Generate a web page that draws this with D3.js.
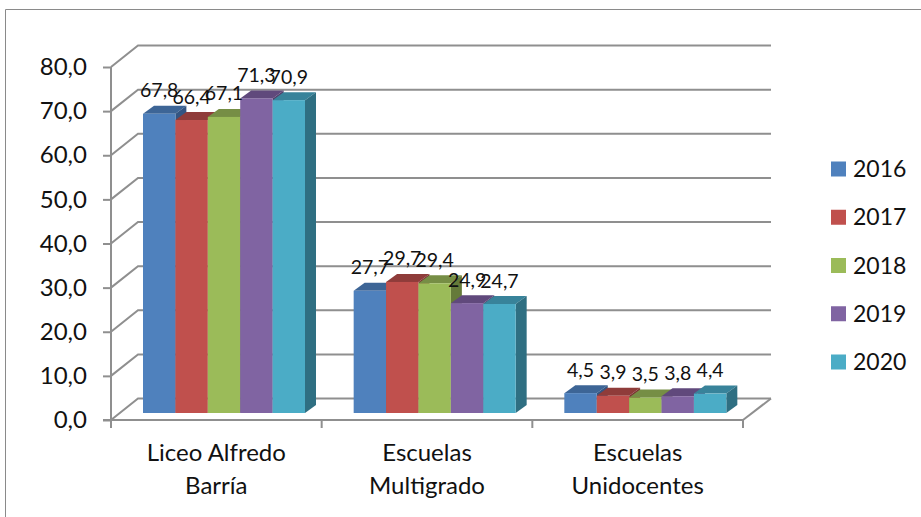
<!DOCTYPE html>
<html>
<head>
<meta charset="utf-8">
<script src="https://cdn.jsdelivr.net/npm/d3@7"></script>
<style>
  html, body { margin: 0; padding: 0; background: #fff; }
  text { font-family: Lato, "Open Sans", sans-serif; fill: #111; }
</style>
</head>
<body>
<div id="chart"></div>
<script>
const categories = [['Liceo Alfredo', 'Barría'], ['Escuelas', 'Multigrado'], ['Escuelas', 'Unidocentes']];
const years = ['2016', '2017', '2018', '2019', '2020'];
const values2016 = [67.8, 27.7, 4.5];
const values2017 = [66.4, 29.7, 3.9];
const values2018 = [67.1, 29.4, 3.5];
const values2019 = [71.3, 24.9, 3.8];
const values2020 = [70.9, 24.7, 4.4];
const seriesValues = [values2016, values2017, values2018, values2019, values2020];
const yTicks = [0, 10, 20, 30, 40, 50, 60, 70, 80];

const colors = ['#4f81bd', '#c0504d', '#9bbb59', '#8064a2', '#4bacc6'];
const topColors = ['#3d6596', '#8f3c3a', '#768e45', '#60497c', '#38839a'];
const sideColors = ['#335582', '#7c3331', '#657a3a', '#523e6b', '#2f6f82'];
const gridColor = '#8f8f8f';

const w = 921, h = 517;
// offset of the back wall, and of the bar's depth
const wallX = 27, wallY = 21.5;
const depthX = 11, depthY = 8, barLift = 7;

const svg = d3.select('#chart').append('svg').attr('width', w).attr('height', h).style('display', 'block');

// outer frame, only top and left show
svg.append('path').attr('d', d3.line()([[5.5, h], [5.5, 9.5], [w, 9.5]]))
    .attr('fill', 'none').attr('stroke', '#8a8a8a').attr('stroke-width', 1);

const y = d3.scaleLinear().domain([0, 80]).range([420, 67]);
const x = d3.scaleBand().domain(d3.range(categories.length)).range([111, 743]);
const xInner = d3.scaleBand().domain(d3.range(years.length)).range([32, 194]);
const comma = d3.formatLocale({decimal: ',', thousands: '.', grouping: [3], currency: ['', '']}).format('.1f');

const line = d3.line();
const grid = svg.append('g').attr('fill', 'none').attr('stroke', gridColor).attr('stroke-width', 2);

// wall gridlines and the diagonals going back to them
grid.selectAll('path.wall').data(yTicks).join('path').attr('class', 'wall')
    .attr('d', d => line([[111, y(d)], [111 + wallX, y(d) - wallY], [771, y(d) - wallY]]));

// floor
grid.append('path').attr('d', line([[743, y(0)], [771, y(0) - wallY]]));

// y axis
const yAxis = svg.append('g').attr('transform', 'translate(111,0)')
    .call(d3.axisLeft(y).tickValues(yTicks).tickSize(8).tickPadding(16).tickFormat(comma));
yAxis.select('.domain').remove();
yAxis.selectAll('line').attr('stroke', gridColor).attr('stroke-width', 2);
yAxis.selectAll('text').attr('font-size', 24).style('font-family', 'Lato').style('fill', '#111');

grid.append('path').attr('d', line([[111, y(80)], [111, 428]]));
grid.append('path').attr('d', line([[103, y(0)], [743, y(0)]]));
grid.selectAll('path.xtick').data(d3.range(categories.length + 1)).join('path').attr('class', 'xtick')
    .attr('d', i => {
        const px = 111 + i * x.bandwidth();
        return line([[px, y(0)], [px, 428]]);
    });

// bars, left to right so each front covers the previous side
const bars = [];
categories.forEach((c, ci) => {
    seriesValues.forEach((vals, si) => {
        bars.push({ci, si, value: vals[ci]});
    });
});

const barG = svg.append('g').selectAll('g').data(bars).join('g');
const barLeft = d => x(d.ci) + xInner(d.si);
const barRight = d => barLeft(d) + xInner.bandwidth();
const barTop = d => y(d.value) - barLift;
const barBase = y(0) - barLift;

barG.append('path').attr('fill', d => topColors[d.si])
    .attr('d', d => line([[barLeft(d), barTop(d)], [barLeft(d) + depthX, barTop(d) - depthY], [barRight(d) + depthX, barTop(d) - depthY], [barRight(d), barTop(d)]]) + 'Z');
barG.append('path').attr('fill', d => sideColors[d.si])
    .attr('d', d => line([[barRight(d), barTop(d)], [barRight(d) + depthX, barTop(d) - depthY], [barRight(d) + depthX, barBase - depthY], [barRight(d), barBase]]) + 'Z');
barG.append('rect').attr('fill', d => colors[d.si])
    .attr('x', barLeft).attr('y', barTop)
    .attr('width', xInner.bandwidth()).attr('height', d => barBase - barTop(d));

// data labels go on top of everything
svg.append('g').selectAll('text').data(bars).join('text')
    .attr('x', d => barLeft(d) + xInner.bandwidth() / 2)
    .attr('y', d => barTop(d) - 16.5)
    .attr('text-anchor', 'middle').attr('font-size', 19.5)
    .text(d => comma(d.value));

// category labels
const catG = svg.append('g').selectAll('text').data(categories).join('text')
    .attr('text-anchor', 'middle').attr('font-size', 24);
catG.selectAll('tspan').data((d, i) => d.map((t, j) => ({t, j, i}))).join('tspan')
    .attr('x', d => x(d.i) + x.bandwidth() / 2)
    .attr('y', d => 461 + d.j * 33)
    .text(d => d.t);

// legend
const legendY = d3.scalePoint().domain(years).range([169, 362]);
const legend = svg.append('g').selectAll('g').data(years).join('g')
    .attr('transform', d => `translate(831,${legendY(d)})`);
legend.append('rect').attr('y', -7.5).attr('width', 15).attr('height', 15)
    .attr('fill', (d, i) => colors[i]);
legend.append('text').attr('x', 22).attr('y', 8).attr('font-size', 23).text(d => d);
</script>
</body>
</html>
